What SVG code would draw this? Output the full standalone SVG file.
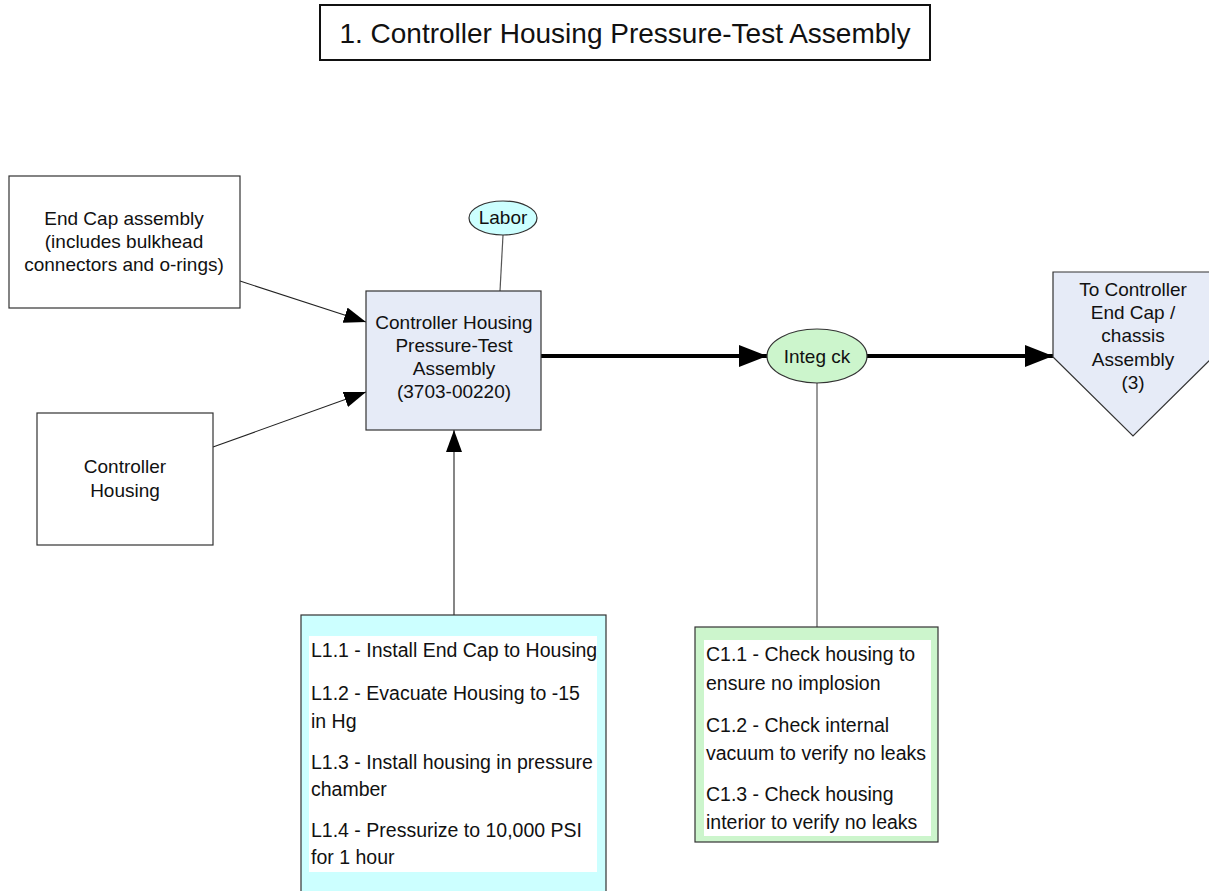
<svg xmlns="http://www.w3.org/2000/svg" width="1209" height="891" viewBox="0 0 1209 891">
  <defs>
    <style>
      text { font-family: "Liberation Sans", Arial, sans-serif; fill: #111; }
      .box { fill: #ffffff; stroke: #333; stroke-width: 1.2; }
      .part { fill: #e6ebf7; stroke: #333; stroke-width: 1.2; }
      .labor { fill: #ccffff; stroke: #333; stroke-width: 1.2; }
      .check { fill: #ccf5cc; stroke: #333; stroke-width: 1.2; }
      .inner { fill: #ffffff; stroke: none; }
      .lbl { font-size: 19px; text-anchor: middle; }
      .step { font-size: 19.5px; }
      .thin { stroke: #222; stroke-width: 1.1; fill: none; }
      .thick { stroke: #000; stroke-width: 4; fill: none; }
      .tie { stroke: #555; stroke-width: 1.2; fill: none; }
    </style>
    <marker id="arr" markerUnits="userSpaceOnUse" markerWidth="24" markerHeight="18" refX="22" refY="8" orient="auto">
      <path d="M0,0 L22,8 L0,16 z" fill="#000"/>
    </marker>
    <marker id="arrBig" markerUnits="userSpaceOnUse" markerWidth="30" markerHeight="24" refX="28" refY="11" orient="auto">
      <path d="M0,0 L28,11 L0,22 z" fill="#000"/>
    </marker>
  </defs>

  <!-- title -->
  <g id="title">
    <rect x="320" y="5" width="610" height="55" fill="#fff" stroke="#111" stroke-width="2"/>
    <text x="625" y="43" font-size="28" text-anchor="middle">1. Controller Housing Pressure-Test Assembly</text>
  </g>

  <!-- connectors -->
  <g id="connectors">
    <line class="thin" x1="240" y1="281" x2="366" y2="322" marker-end="url(#arr)"/>
    <line class="thin" x1="213" y1="447" x2="366" y2="392" marker-end="url(#arr)"/>
    <line class="thin" x1="454" y1="615" x2="454" y2="430" marker-end="url(#arr)"/>
    <line class="tie" x1="503" y1="235" x2="500" y2="291"/>
    <line class="thick" x1="541" y1="356" x2="767" y2="356" marker-end="url(#arrBig)"/>
    <line class="thick" x1="867" y1="356" x2="1053" y2="356" marker-end="url(#arrBig)"/>
    <line class="tie" x1="817" y1="383" x2="817" y2="627"/>
  </g>

  <g id="end-cap">
    <rect class="box" x="9" y="176" width="231" height="132"/>
    <text class="lbl" x="124" y="225">End Cap assembly</text>
    <text class="lbl" x="124" y="248">(includes bulkhead</text>
    <text class="lbl" x="124" y="271">connectors and o-rings)</text>
  </g>

  <g id="controller-housing">
    <rect class="box" x="37" y="413" width="176" height="132"/>
    <text class="lbl" x="125" y="473">Controller</text>
    <text class="lbl" x="125" y="497">Housing</text>
  </g>

  <g id="assembly">
    <rect class="part" x="366" y="291" width="175" height="139"/>
    <text class="lbl" x="454" y="329">Controller Housing</text>
    <text class="lbl" x="454" y="352">Pressure-Test</text>
    <text class="lbl" x="454" y="375">Assembly</text>
    <text class="lbl" x="454" y="398">(3703-00220)</text>
  </g>

  <g id="labor">
    <ellipse class="labor" cx="503" cy="218" rx="34" ry="17"/>
    <text class="lbl" x="503" y="224">Labor</text>
  </g>

  <g id="integ-ck">
    <ellipse class="check" cx="817" cy="356" rx="50" ry="27"/>
    <text class="lbl" x="817" y="363">Integ ck</text>
  </g>

  <g id="next-step">
    <polygon class="part" points="1053,272 1213,272 1213,357 1133,436 1053,357"/>
    <text class="lbl" x="1133" y="296">To Controller</text>
    <text class="lbl" x="1133" y="319">End Cap /</text>
    <text class="lbl" x="1133" y="342">chassis</text>
    <text class="lbl" x="1133" y="366">Assembly</text>
    <text class="lbl" x="1133" y="389">(3)</text>
  </g>

  <g id="labor-steps">
    <rect class="labor" x="301" y="615" width="305" height="290"/>
    <rect class="inner" x="309" y="636" width="288" height="236"/>
    <text class="step" x="311" y="657">L1.1 - Install End Cap to Housing</text>
    <text class="step" x="311" y="700">L1.2 - Evacuate Housing to -15</text>
    <text class="step" x="311" y="728">in Hg</text>
    <text class="step" x="311" y="769">L1.3 - Install housing in pressure</text>
    <text class="step" x="311" y="796">chamber</text>
    <text class="step" x="311" y="837">L1.4 - Pressurize to 10,000 PSI</text>
    <text class="step" x="311" y="864">for 1 hour</text>
  </g>

  <g id="check-steps">
    <rect class="check" x="695" y="627" width="243" height="215"/>
    <rect class="inner" x="704" y="640" width="227" height="196"/>
    <text class="step" x="706" y="661">C1.1 - Check housing to</text>
    <text class="step" x="706" y="690">ensure no implosion</text>
    <text class="step" x="706" y="732">C1.2 - Check internal</text>
    <text class="step" x="706" y="760">vacuum to verify no leaks</text>
    <text class="step" x="706" y="801">C1.3 - Check housing</text>
    <text class="step" x="706" y="829">interior to verify no leaks</text>
  </g>
</svg>
